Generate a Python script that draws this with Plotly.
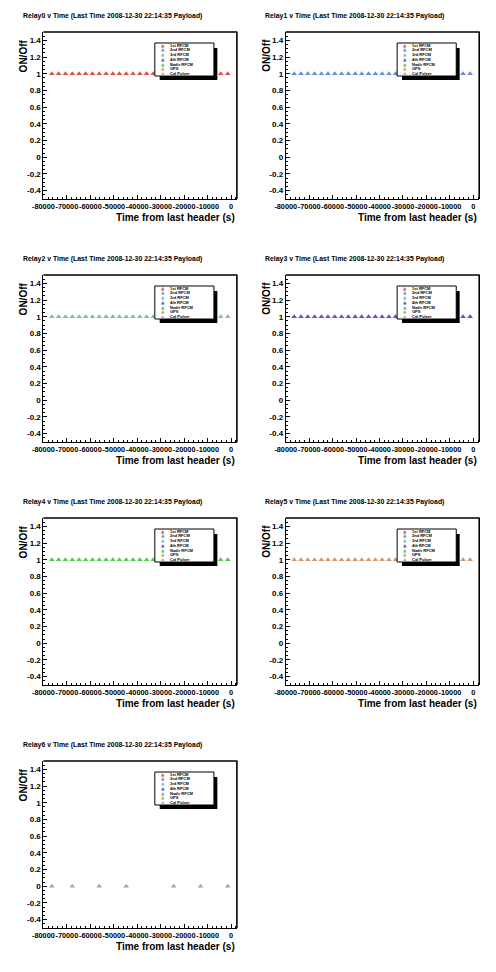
import plotly.graph_objects as go

# the page puts an 8px margin round the plot; keep the figure inside the window
PAGE_OFF = 8
W, H = 496 - 2 * PAGE_OFF, 972 - 2 * PAGE_OFF

relay_names = ["Relay0", "Relay1", "Relay2", "Relay3", "Relay4", "Relay5", "Relay6"]
relay_colors = ["#d9534f", "#6b8fd6", "#7cc0a4", "#5656d8", "#52cc52", "#d29a6c", "#b3a28e"]
legend_labels = ["1st RFCM", "2nd RFCM", "3rd RFCM", "4th RFCM", "Nadir RFCM", "GPS", "Cal Pulser"]

# time of each housekeeping read, seconds before the last header
hk_times = [-76400, -73500, -70600, -67700, -64800, -62000, -59100, -56200, -53300,
            -50400, -47600, -44700, -41800, -38900, -36000, -33200, -30300, -27400,
            -24500, -21600, -18800, -15900, -13000, -10100, -7200, -4400, -1400]
hk_state = [1, 1, 1, 1, 1, 1, 1, 1, 1, 1, 1, 1, 1, 1, 1, 1, 1, 1, 1, 1, 1, 1, 1, 1, 1, 1, 1]

# relay6 (cal pulser) only has a few reads
cal_times = [-76400, -67700, -56200, -44700, -24500, -13000, -1400]
cal_state = [0, 0, 0, 0, 0, 0, 0]

x_ticks = [-80000, -70000, -60000, -50000, -40000, -30000, -20000, -10000, 0]
x_ticklabels = ["-80000", "-70000", "-60000", "-50000", "-40000", "-30000", "-20000", "-10000", "0"]
y_ticks = [-0.4, -0.2, 0, 0.2, 0.4, 0.6, 0.8, 1, 1.2, 1.4]
y_ticklabels = ["-0.4", "-0.2", "0", "0.2", "0.4", "0.6", "0.8", "1", "1.2", "1.4"]

title_text = "{} v Time (Last Time 2008-12-30 22:14:35 Payload)"

FONT = "Liberation Sans, Arial, sans-serif"


def fx(px):
    return (px - PAGE_OFF) / W


def fy(py):
    return 1 - (py - PAGE_OFF) / H


fig = go.Figure()
shapes = []
annotations = []

for i, name in enumerate(relay_names):
    col, row = i % 2, i // 2
    ox, oy = 248 * col, 243 * row
    n = i + 1
    xa = "x" if n == 1 else "x%d" % n
    ya = "y" if n == 1 else "y%d" % n

    if i < 6:
        xs, ys = hk_times, hk_state
    else:
        xs, ys = cal_times, cal_state

    fig.add_trace(go.Scatter(
        x=xs, y=ys, mode="markers", xaxis=xa, yaxis=ya, showlegend=False,
        marker=dict(symbol="triangle-up", size=5, color=relay_colors[i], line=dict(width=0)),
    ))

    axis_common = dict(showline=True, linecolor="black", linewidth=1, showgrid=False,
                       zeroline=False, ticks="inside", tickcolor="black", tickwidth=1,
                       tickangle=0)
    fig.layout[("xaxis" if n == 1 else "xaxis%d" % n)] = dict(
        domain=[fx(ox + 33), fx(ox + 231)], anchor=ya, range=[-80000, 2500],
        tickmode="array", tickvals=x_ticks, ticktext=x_ticklabels, ticklen=4,
        tickfont=dict(family=FONT, size=7.3, color="black", weight="bold"),
        minor=dict(ticks="inside", dtick=2000, tick0=0, ticklen=2, tickcolor="black"),
        **axis_common)
    fig.layout[("yaxis" if n == 1 else "yaxis%d" % n)] = dict(
        domain=[fy(oy + 199), fy(oy + 32)], anchor=xa, range=[-0.5, 1.5],
        tickmode="array", tickvals=y_ticks, ticktext=y_ticklabels, ticklen=4,
        tickfont=dict(family=FONT, size=8, color="black", weight="bold"),
        minor=dict(ticks="inside", dtick=0.05, tick0=0, ticklen=2, tickcolor="black"),
        **axis_common)

    # thick top and right frame edges
    shapes.append(dict(type="line", xref="paper", yref="paper", layer="above",
                       x0=fx(ox + 33), x1=fx(ox + 231.5), y0=fy(oy + 32), y1=fy(oy + 32),
                       line=dict(color="black", width=1.6)))
    shapes.append(dict(type="line", xref="paper", yref="paper", layer="above",
                       x0=fx(ox + 231), x1=fx(ox + 231), y0=fy(oy + 32), y1=fy(oy + 199),
                       line=dict(color="black", width=1.6)))

    # legend box with shadow
    shapes.append(dict(type="rect", xref="paper", yref="paper", layer="above",
                       x0=fx(ox + 152), x1=fx(ox + 211), y0=fy(oy + 80), y1=fy(oy + 48),
                       fillcolor="black", line=dict(width=0)))
    shapes.append(dict(type="rect", xref="paper", yref="paper", layer="above",
                       x0=fx(ox + 147), x1=fx(ox + 207.5), y0=fy(oy + 76), y1=fy(oy + 43),
                       fillcolor="white", line=dict(color="black", width=1)))
    for k, lab in enumerate(legend_labels):
        yy = oy + 45.2 + k * 4.7
        annotations.append(dict(xref="paper", yref="paper", x=fx(ox + 155), y=fy(yy),
                                text="\u25b2", showarrow=False, xanchor="center", yanchor="middle",
                                font=dict(family="DejaVu Sans", size=4.5, color=relay_colors[k])))
        annotations.append(dict(xref="paper", yref="paper", x=fx(ox + 160), y=fy(yy),
                                text=lab, showarrow=False, xanchor="left", yanchor="middle",
                                font=dict(family=FONT, size=4, color="black", weight="bold")))

    # titles
    annotations.append(dict(xref="paper", yref="paper", x=fx(ox + 10), y=fy(oy + 16),
                            text=title_text.format(name), showarrow=False,
                            xanchor="left", yanchor="middle",
                            font=dict(family=FONT, size=6.9, color="black", weight="bold")))
    annotations.append(dict(xref="paper", yref="paper", x=fx(ox + 13), y=fy(oy + 37),
                            text="ON/Off", showarrow=False, textangle=-90,
                            xanchor="center", yanchor="top",
                            font=dict(family=FONT, size=10, color="black", weight="bold")))
    annotations.append(dict(xref="paper", yref="paper", x=fx(ox + 231), y=fy(oy + 217),
                            text="Time from last header (s)", showarrow=False,
                            xanchor="right", yanchor="middle",
                            font=dict(family=FONT, size=10, color="black", weight="bold")))

fig.update_layout(
    width=W, height=H,
    margin=dict(l=0, r=0, t=0, b=0),
    paper_bgcolor="white", plot_bgcolor="white",
    shapes=shapes, annotations=annotations,
    showlegend=False,
)

fig.write_html("out.html")
